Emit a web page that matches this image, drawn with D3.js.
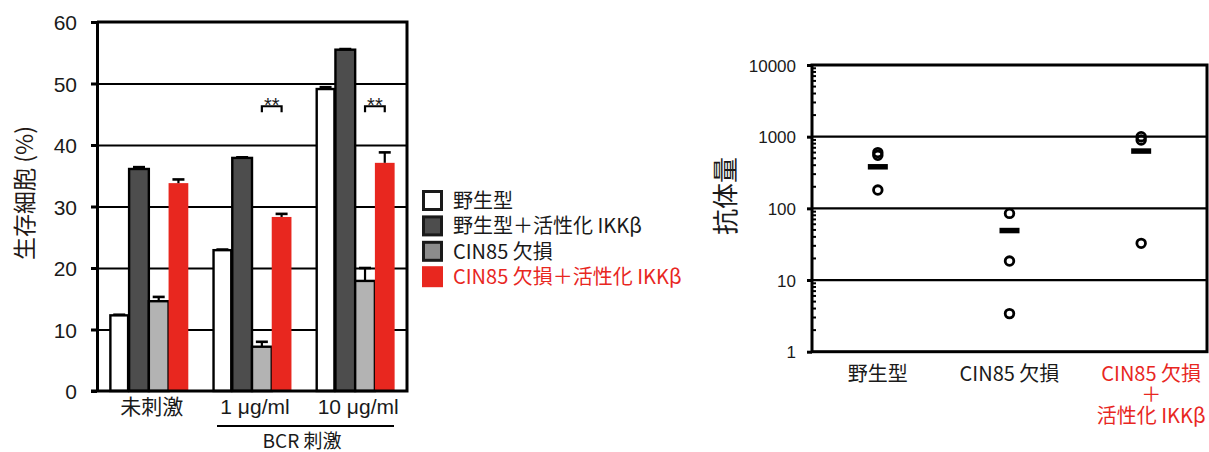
<!DOCTYPE html>
<html>
<head><meta charset="utf-8"></head>
<body style="margin:0">
<style>
  body { background: #fff; }
  text { fill: #1a1a1a; }
</style>
<script src="https://d3js.org/d3.v7.min.js"></script>
<script>

var groups = ["未刺激", "1 μg/ml", "10 μg/ml"];
var series = ["野生型", "野生型＋活性化 IKKβ", "CIN85 欠損", "CIN85 欠損＋活性化 IKKβ"];
var survival = [
  [12.3, 36.1, 14.6, 33.8],
  [22.9, 37.9, 7.2, 28.3],
  [49.1, 55.5, 17.9, 37.1]
];
var survivalErr = [
  [0.1, 0.3, 0.7, 0.6],
  [0.1, 0.1, 0.8, 0.5],
  [0.3, 0.1, 2.1, 1.7]
];
var yTicks = [0, 10, 20, 30, 40, 50, 60];
var sigMarks = [
  { group: 1, from: 2, to: 3, value: 46.3 },
  { group: 2, from: 2, to: 3, value: 46.3 }
];

var mice = ["野生型", "CIN85 欠損", "CIN85 欠損＋活性化 IKKβ"];
var miceLines = [["野生型"], ["CIN85 欠損"], ["CIN85 欠損", "＋", "活性化 IKKβ"]];
var antibody = [
  [600, 550, 180],
  [85, 18.4, 3.4],
  [1000, 900, 32.5]
];
var antibodyMean = [380, 49, 630];
var logTicks = [1, 10, 100, 1000, 10000];

var fills = ["#ffffff", "#4d4d4d", "#b3b3b3", "#e8271f"];
var legendFills = ["#ffffff", "#4d4d4d", "#8c8c8c", "#e8271f"];
var red = "#e8271f";
var numFont = "'Liberation Sans', Arial, sans-serif";
var jpFont = "'Noto Sans CJK JP', sans-serif";

var svg = d3.select("body").append("svg")
    .attr("width", 1209)
    .attr("height", 452);

// ---------- left: bar chart ----------
var L = { left: 97, right: 407, top: 22, bottom: 391 };

var x0 = d3.scaleBand().domain(groups)
    .range([L.left, L.right])
    .paddingInner(0.235)
    .paddingOuter(0.12);

var x1 = d3.scaleBand().domain(d3.range(series.length))
    .range([0, x0.bandwidth()]);

var y = d3.scaleLinear().domain([0, 60]).range([L.bottom, L.top]);

var left = svg.append("g");

// grid lines
left.append("g")
    .attr("transform", "translate(" + L.left + ",0)")
    .call(d3.axisLeft(y).tickValues([10, 20, 30, 40, 50]).tickSize(-(L.right - L.left)).tickFormat(""))
    .call(function(g) { g.select(".domain").remove(); })
    .selectAll("line")
    .attr("stroke", "#000")
    .attr("stroke-width", 2.2);

var gBars = left.selectAll(".grp")
    .data(survival)
  .enter().append("g")
    .attr("class", "grp")
    .attr("transform", function(d, i) { return "translate(" + x0(groups[i]) + ",0)"; });

gBars.selectAll("rect")
    .data(function(d) { return d; })
  .enter().append("rect")
    .attr("x", function(d, i) { return x1(i) + (i == 0 ? 1 : 0); })
    .attr("width", function(d, i) { return x1.bandwidth() - (i == 0 ? 2 : 0); })
    .attr("y", function(d) { return y(d); })
    .attr("height", function(d) { return y(0) - y(d); })
    .attr("fill", function(d, i) { return fills[i]; })
    .attr("stroke", function(d, i) { return i == 3 ? "none" : "#000"; })
    .attr("stroke-width", 2.4);

// error bars
gBars.each(function(vals, gi) {
  var g = d3.select(this);
  vals.forEach(function(v, i) {
    var cx = x1(i) + x1.bandwidth() / 2;
    var top = y(v + survivalErr[gi][i]);
    g.append("line")
        .attr("x1", cx).attr("x2", cx)
        .attr("y1", y(v)).attr("y2", top)
        .attr("stroke", "#000").attr("stroke-width", 2.2);
    g.append("line")
        .attr("x1", cx - 6).attr("x2", cx + 6)
        .attr("y1", top).attr("y2", top)
        .attr("stroke", "#000").attr("stroke-width", 2.6);
  });
});

// significance brackets
sigMarks.forEach(function(s) {
  var xa = x0(groups[s.group]) + x1(s.from) + x1.bandwidth() / 2;
  var xb = x0(groups[s.group]) + x1(s.to) + x1.bandwidth() / 2;
  var yy = y(s.value);
  left.append("path")
      .attr("d", "M" + xa + "," + (yy + 6) + "V" + yy + "H" + xb + "V" + (yy + 6))
      .attr("fill", "none").attr("stroke", "#000").attr("stroke-width", 2.2);
  left.append("text")
      .attr("x", (xa + xb) / 2).attr("y", yy + 6)
      .attr("text-anchor", "middle")
      .style("font", "20px " + numFont)
      .text("**");
});

// y axis
var yAxis = left.append("g")
    .attr("transform", "translate(" + L.left + ",0)")
    .call(d3.axisLeft(y).tickValues(yTicks).tickSize(6).tickSizeOuter(0).tickPadding(14));
yAxis.select(".domain").attr("stroke", "#000").attr("stroke-width", 3);
yAxis.selectAll("line").attr("stroke", "#000").attr("stroke-width", 3);
yAxis.selectAll("text")
    .style("font", "21px " + numFont)
    .attr("dy", "0.38em");

// frame: top, right, bottom
left.append("path")
    .attr("d", "M" + (L.left - 6) + "," + L.bottom + "H" + L.right + "V" + L.top + "H" + L.left)
    .attr("fill", "none").attr("stroke", "#000").attr("stroke-width", 3);

// x labels
left.selectAll(".xl")
    .data(groups)
  .enter().append("text")
    .attr("class", "xl")
    .attr("x", function(d) { return x0(d) + x0.bandwidth() / 2 + 3; })
    .attr("y", 414)
    .attr("text-anchor", "middle")
    .style("font", "21px " + numFont + ", 'Noto Sans CJK JP'")
    .text(function(d) { return d; });

left.append("line")
    .attr("x1", 217).attr("x2", 394)
    .attr("y1", 426).attr("y2", 426)
    .attr("stroke", "#000").attr("stroke-width", 2.2);

left.append("text")
    .attr("x", 302).attr("y", 448)
    .attr("text-anchor", "middle")
    .style("font", "19px " + jpFont)
    .text("BCR 刺激");

left.append("text")
    .attr("transform", "translate(33,193) rotate(-90)")
    .attr("text-anchor", "middle")
    .style("font", "23px " + jpFont)
    .style("fill", "#231815")
    .text("生存細胞 (%)");

// legend
var legend = svg.append("g").attr("transform", "translate(422,190)");
var item = legend.selectAll(".li")
    .data(series)
  .enter().append("g")
    .attr("class", "li")
    .attr("transform", function(d, i) { return "translate(0," + (i * 25.4) + ")"; });

item.append("rect")
    .attr("x", function(d, i) { return i == 3 ? 0 : 1.5; })
    .attr("y", function(d, i) { return i == 3 ? 0 : 1.5; })
    .attr("width", function(d, i) { return i == 3 ? 21 : 18; })
    .attr("height", function(d, i) { return i == 3 ? 21 : 18; })
    .attr("fill", function(d, i) { return legendFills[i]; })
    .attr("stroke", function(d, i) { return i == 3 ? "none" : "#1a1a1a"; })
    .attr("stroke-width", 3);

item.append("text")
    .attr("x", 31).attr("y", 18)
    .style("font", "20px " + jpFont)
    .style("fill", function(d, i) { return i == 3 ? red : "#1a1a1a"; })
    .text(function(d) { return d; });

// ---------- right: antibody dot plot ----------
var R = { left: 812, right: 1207, top: 65, bottom: 351.7 };

var xr = d3.scalePoint().domain(mice).range([R.left, R.right]).padding(0.5);
var yr = d3.scaleLog().domain([1, 10000]).range([R.bottom, R.top]);

var right = svg.append("g");

right.selectAll(".grid")
    .data([10, 100, 1000])
  .enter().append("line")
    .attr("x1", R.left).attr("x2", R.right)
    .attr("y1", function(d) { return yr(d); })
    .attr("y2", function(d) { return yr(d); })
    .attr("stroke", "#000").attr("stroke-width", 2.2);

// minor ticks inside
var minor = [];
[1, 10, 100, 1000].forEach(function(dec) {
  for (var k = 2; k < 10; k++) minor.push(dec * k);
});
right.selectAll(".minor")
    .data(minor)
  .enter().append("line")
    .attr("x1", R.left).attr("x2", R.left + 4)
    .attr("y1", function(d) { return yr(d); })
    .attr("y2", function(d) { return yr(d); })
    .attr("stroke", "#000").attr("stroke-width", 2);

var ryAxis = right.append("g")
    .attr("transform", "translate(" + R.left + ",0)")
    .call(d3.axisLeft(yr).tickValues(logTicks).tickFormat(d3.format("d")).tickSize(5).tickSizeOuter(0).tickPadding(11));
ryAxis.select(".domain").remove();
ryAxis.selectAll("line").attr("stroke", "#000").attr("stroke-width", 3);
ryAxis.selectAll("text")
    .style("font", "17px " + numFont)
    .attr("dy", "0.36em");

right.append("rect")
    .attr("x", R.left).attr("y", R.top)
    .attr("width", R.right - R.left).attr("height", R.bottom - R.top)
    .attr("fill", "none").attr("stroke", "#000").attr("stroke-width", 3);

// means
right.selectAll(".mean")
    .data(antibodyMean)
  .enter().append("rect")
    .attr("x", function(d, i) { return xr(mice[i]) - 10; })
    .attr("y", function(d) { return yr(d) - 2.75; })
    .attr("width", 20).attr("height", 5.5)
    .attr("fill", "#000");

// points
antibody.forEach(function(pts, i) {
  right.selectAll(".pt" + i)
      .data(pts)
    .enter().append("circle")
      .attr("cx", xr(mice[i]))
      .attr("cy", function(d) { return yr(d); })
      .attr("r", 4.3)
      .attr("fill", "none")
      .attr("stroke", "#000")
      .attr("stroke-width", 2.8);
});

// x labels
miceLines.forEach(function(lines, i) {
  var t = right.append("text")
      .attr("text-anchor", "middle")
      .style("font", "20px " + jpFont)
      .style("fill", i == 2 ? red : "#1a1a1a");
  lines.forEach(function(s, j) {
    t.append("tspan")
        .attr("x", xr(mice[i]) + (i == 2 ? 10 : 0))
        .attr("y", 381 + j * 21)
        .text(s);
  });
});

right.append("text")
    .attr("transform", "translate(735,196) rotate(-90)")
    .attr("text-anchor", "middle")
    .style("font", "26px " + jpFont)
    .text("抗体量");

</script>
</body>
</html>
